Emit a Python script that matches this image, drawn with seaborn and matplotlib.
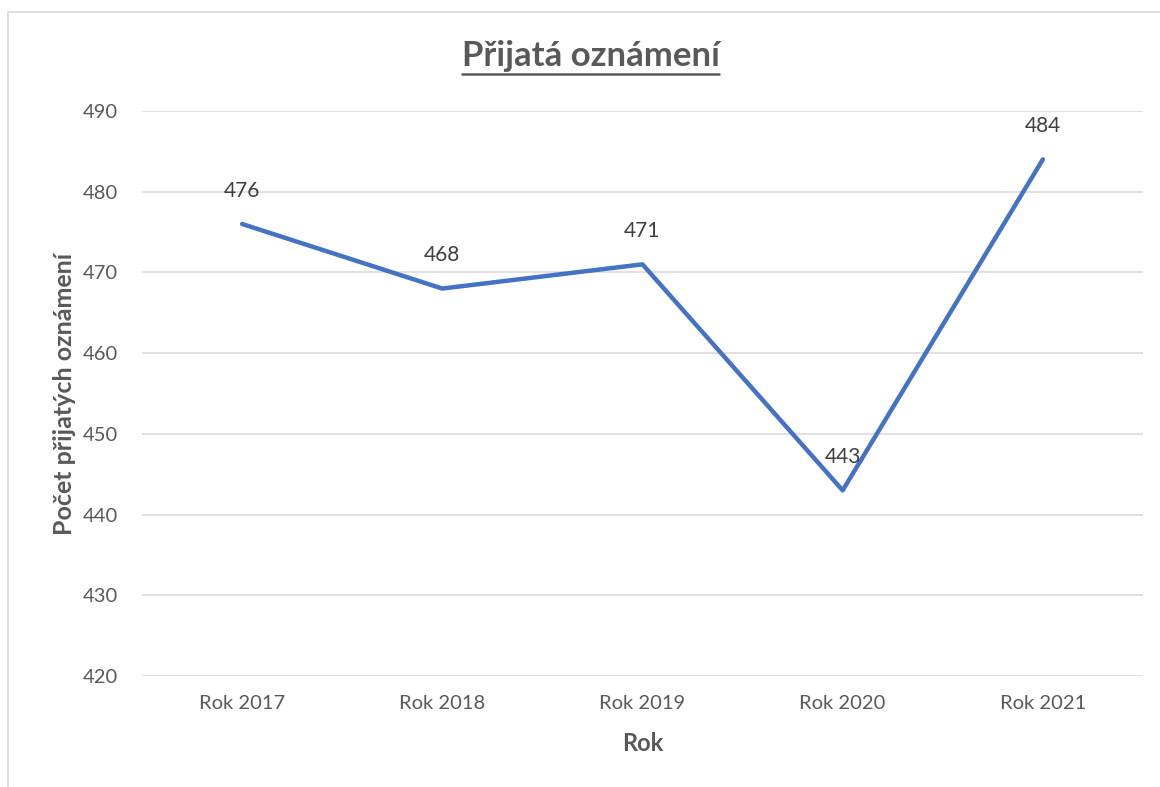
import numpy as np
import pandas as pd
import seaborn as sns
import matplotlib.pyplot as plt
from matplotlib.lines import Line2D
from matplotlib.patches import Rectangle

# chart data
roky = ["Rok 2017", "Rok 2018", "Rok 2019", "Rok 2020", "Rok 2021"]
oznameni = [476, 468, 471, 443, 484]
y_ticks = [420, 430, 440, 450, 460, 470, 480, 490]

df = pd.DataFrame({"Rok": roky, "Pocet": oznameni})

sns.set_theme(style="white")
plt.rcParams['font.family'] = ['Lato', 'DejaVu Sans']
gray = "#595959"

fig = plt.figure(figsize=(11.6, 7.87), dpi=100)
ax = fig.add_axes([0.1224, 0.141, 0.8629, 0.718])

# light border around the chart area (cropped like the original)
fig.patches.append(Rectangle((8 / 1160, -0.05), 1.2, 1 - 12 / 787 + 0.05,
                             transform=fig.transFigure, fill=False,
                             edgecolor="#D9D9D9", linewidth=1.2))

sns.lineplot(data=df, x="Rok", y="Pocet", ax=ax, color="#4472C4",
             linewidth=3.2, sort=False)

for i, v in enumerate(oznameni):
    ax.annotate(str(v), (i, v), xytext=(0, 24), textcoords="offset points",
                ha="center", va="center", fontsize=15, color="#404040")

ax.set_xlim(-0.5, 4.5)
ax.set_ylim(420, 490)
ax.set_yticks(y_ticks)
ax.yaxis.grid(True, color="#D9D9D9", linewidth=1.1)
ax.xaxis.grid(False)
for s in ax.spines.values():
    s.set_visible(False)
ax.tick_params(axis="both", length=0, labelsize=14.5, labelcolor=gray)
ax.tick_params(axis="y", pad=17)
ax.tick_params(axis="x", pad=14)

ax.set_xlabel("Rok", fontsize=17, fontweight="bold", color=gray, labelpad=14)
ax.set_ylabel("Počet přijatých oznámení", fontsize=18, fontweight="bold",
              color=gray, labelpad=5)

title = fig.text(0.509, 1 - 56 / 787, "Přijatá oznámení", ha="center",
                 va="center", fontsize=25, fontweight="bold", color=gray)

# underline the title
fig.canvas.draw()
bb = title.get_window_extent().transformed(fig.transFigure.inverted())
fig.lines.append(Line2D([bb.x0, bb.x1], [bb.y0 - 0.003, bb.y0 - 0.003],
                        transform=fig.transFigure, color=gray, linewidth=1.8))

fig.savefig("out.png", dpi=100)
